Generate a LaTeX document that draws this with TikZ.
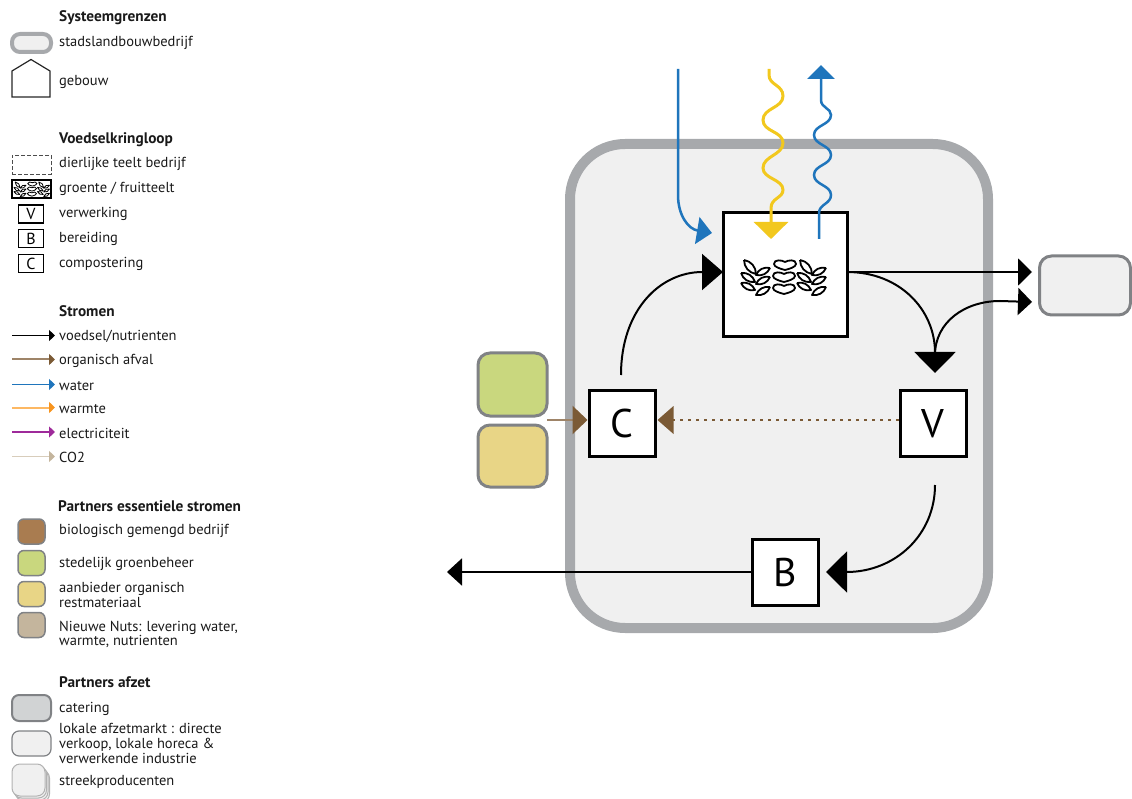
\documentclass[tikz,border=0pt]{standalone}
\usepackage{fontspec}
\setmainfont{PT Sans}
\usetikzlibrary{arrows.meta}
\definecolor{bordergray}{HTML}{A7A9AC}
\definecolor{innergray}{HTML}{F0F0F0}
\definecolor{partnerline}{HTML}{808285}
\definecolor{flowblue}{HTML}{1F75BC}
\definecolor{flowyellow}{HTML}{F2C81E}
\definecolor{wastebrown}{HTML}{7B5A35}
\definecolor{wasteline}{HTML}{9E8468}
\definecolor{swatchbrown}{HTML}{A97C50}
\definecolor{swatchgreen}{HTML}{C9D77E}
\definecolor{swatchyellow}{HTML}{E8D586}
\definecolor{swatchtan}{HTML}{C4B59D}
\definecolor{swatchgray}{HTML}{D1D3D4}
\definecolor{warmline}{HTML}{FDB863}
\definecolor{warmtip}{HTML}{F7941E}
\definecolor{purpleflow}{HTML}{9E2A9A}
\definecolor{coline}{HTML}{D8CDBB}
\tikzset{
  x=1pt, y=-1pt,
  stepnode/.style={draw=black, fill=white, line width=3pt, inner sep=0pt, minimum size=66pt, font=\fontsize{40}{40}\selectfont},
  keynode/.style={draw=black, fill=white, line width=1.2pt, inner sep=0pt, minimum width=25pt, minimum height=18pt, font=\fontsize{16}{16}\selectfont},
  partner/.style={draw=partnerline, line width=3pt, inner sep=0pt, rounded corners=12pt},
  swatch/.style={draw=partnerline, line width=1.5pt, inner sep=0pt, minimum width=27pt, minimum height=25pt, rounded corners=6pt},
  keylabel/.style={anchor=base west, inner sep=0pt, align=left, yshift=-1pt, font=\fontsize{14.5}{15}\selectfont, text=black!90},
  keyhead/.style={keylabel, font=\fontsize{15.3}{15}\selectfont\bfseries},
  flow/.style={draw=black, line width=2pt},
  bigtip/.style={-{Triangle[length=21pt, width=41pt]}},
  midtip/.style={-{Triangle[length=14pt, width=27pt]}},
}
\newcommand{\keytext}[4]{\node[keylabel] (#1) at (#2,#3) {#4};}
\newcommand{\keyhead}[4]{\node[keyhead] (#1) at (#2,#3) {#4};}
\newcommand{\keyflow}[5]{
  \coordinate (#1a) at (12,#2);
  \coordinate (#1b) at (55,#2);
  \draw[draw=#3, line width=#5, -{Triangle[length=6pt, width=11pt, color=#4]}] (#1a) -- (#1b);}
\newcommand{\leaf}[4]{\draw (#1,#2) to[bend left=40] (#3,#4) to[bend left=40] (#1,#2);}
\newcommand{\bean}[2]{\draw[shift={(#1,#2)}] (0,-3) .. controls (3,-5) and (11,-6) .. (11,-1) .. controls (11,2) and (4,4) .. (0,5) .. controls (-4,4) and (-11,2) .. (-11,-1) .. controls (-11,-6) and (-3,-5) .. (0,-3);}
\newcommand{\leaves}[4]{
  \begin{scope}[shift={(#1,#2)}, scale=#3, line width=#4, line join=round]
    \foreach \dx in {0,56} {
      \leaf{-39+\dx}{-17}{-27+\dx}{-3}
      \leaf{-13+\dx}{-9}{-27+\dx}{-2}
      \leaf{-42+\dx}{-4}{-28+\dx}{5}
      \leaf{-13+\dx}{0}{-27+\dx}{7}
      \leaf{-42+\dx}{6}{-28+\dx}{13}
      \leaf{-13+\dx}{10}{-27+\dx}{18}
    }
    \bean{2}{-12}
    \bean{1}{0}
    \bean{1}{12}
  \end{scope}}
\begin{document}
\begin{tikzpicture}
  \useasboundingbox (0,0) rectangle (1132,799);
  % system boundary
  \node[draw=bordergray, fill=innergray, line width=10pt, inner sep=0pt, minimum width=418pt, minimum height=484pt, rounded corners=55pt] (bedrijf) at (779,386) {};
  % steps
  \node[stepnode, minimum size=124pt] (teelt) at (785,274.5) {};
  \leaves{783}{277}{1}{1.8pt}
  \node[stepnode] (compost) at (622,423.5) {C};
  \node[stepnode] (verwerk) at (933,423.5) {V};
  \node[stepnode] (bereid) at (785,572) {B};
  % partners
  \node[partner, fill=swatchgreen, minimum width=69pt, minimum height=63pt] (groen) at (512.5,384.5) {};
  \node[partner, fill=swatchyellow, minimum width=69pt, minimum height=62pt] (rest) at (512.5,456) {};
  \node[partner, fill=innergray, minimum width=91pt, minimum height=59pt] (afzet) at (1085,285.5) {};
  % free ends
  \coordinate (compostup) at (621,375);
  \coordinate (teeltin) at (723,272);
  \coordinate (teeltout) at (847,272);
  \coordinate (afzetA) at (1032,272);
  \coordinate (afzetB) at (1032,302);
  \coordinate (split) at (935,355);
  \coordinate (verwerkin) at (935,373);
  \coordinate (verwerkout) at (935,485);
  \coordinate (bereidin) at (826,572);
  \coordinate (uit) at (447,572);
  \coordinate (restin) at (547,420);
  \coordinate (waterin) at (678,69);
  \coordinate (watertip) at (712,233);
  \coordinate (warmin) at (769,69);
  \coordinate (warmtip) at (771,239);
  \coordinate (waterout) at (819,239);
  \coordinate (watertop) at (821,65);
  % flows
  \draw[flow, -{Triangle[length=21pt, width=36pt]}] (compostup) .. controls (621,310) and (660,272) .. (teeltin);
  \draw[flow, midtip] (teeltout) -- (afzetA);
  \draw[flow, bigtip] (teeltout) .. controls (900,272) and (935,310) .. (verwerkin);
  \draw[flow, midtip] (split) .. controls (935,322) and (965,301) .. (1000,301) -- (afzetB);
  \draw[flow, bigtip] (verwerkout) .. controls (935,535) and (895,572) .. (bereidin);
  \draw[flow, -{Triangle[length=15pt, width=27pt]}] (bereid.west) -- (uit);
  \draw[draw=wasteline, line width=2.5pt, -{Triangle[length=15pt, width=28pt, color=wastebrown]}] (restin) -- (compost.west |- restin);
  \draw[draw=wastebrown, line width=2pt, dash pattern=on 3pt off 5pt] (verwerk.west |- restin) -- (672,420);
  \draw[draw=none, fill=wastebrown] (compost.east |- restin) ++(1,0) -- ++(16,-14) -- ++(0,28) -- cycle;
  \draw[draw=flowblue, line width=2.5pt, -{Triangle[length=15pt, width=27pt]}] (waterin) -- (678,195) .. controls (678,215) and (688,229) .. (watertip);
  \draw[draw=flowyellow, line width=3pt, -{Triangle[length=17pt, width=34pt]}] (warmin) -- (769,75) .. controls (769,85) and (783,85) .. (783,96) .. controls (783,108) and (763,108) .. (763,120) .. controls (763,132) and (783,131) .. (783,143) .. controls (783,155) and (763,156) .. (763,168) .. controls (763,179) and (783,179) .. (783,190) .. controls (783,198) and (771,198) .. (771,208) -- (warmtip);
  \draw[draw=flowblue, line width=2.5pt, -{Triangle[length=14pt, width=27pt]}] (waterout) -- (819,213) .. controls (819,204) and (831,204) .. (831,195) .. controls (831,185) and (814,185) .. (814,175) .. controls (814,165) and (831,165) .. (831,155) .. controls (831,145) and (814,145) .. (814,135) .. controls (814,125) and (831,125) .. (831,115) .. controls (831,108) and (821,108) .. (821,100) -- (watertop);
  % legend systeemgrenzen
  \keyhead{kopA}{59}{21}{Systeemgrenzen}
  \node[draw=bordergray, fill=innergray, line width=4pt, inner sep=0pt, minimum width=39pt, minimum height=18pt, rounded corners=8pt] (keybedrijf) at (31.5,43) {};
  \keytext{txtbedrijf}{59}{46}{stadslandbouwbedrijf}
  \draw[line width=1.2pt, draw=black!85] (12,97) -- (12,71) -- (31,59.5) -- (50,71) -- (50,97) -- cycle;
  \keytext{txtgebouw}{59}{85}{gebouw}
  % legend voedselkringloop
  \keyhead{kopB}{59}{143}{Voedselkringloop}
  \node[draw=black!70, dash pattern=on 4pt off 2pt, line width=0.9pt, inner sep=0pt, minimum width=39pt, minimum height=19pt] (keydier) at (31.5,165) {};
  \keytext{txtdier}{59}{167}{dierlijke teelt bedrijf}
  \node[draw=black, fill=white, line width=1.5pt, inner sep=0pt, minimum width=39pt, minimum height=18pt] (keyteelt) at (31.5,189) {};
  \leaves{31.5}{189}{0.42}{0.8pt}
  \keytext{txtteelt}{59}{192}{groente / fruitteelt}
  \node[keynode] (keyV) at (31,214) {V};
  \keytext{txtV}{59}{217}{verwerking}
  \node[keynode] (keyB) at (31,238.5) {B};
  \keytext{txtB}{59}{242}{bereiding}
  \node[keynode] (keyC) at (31,263.5) {C};
  \keytext{txtC}{59}{267}{compostering}
  % legend stromen
  \keyhead{kopC}{59}{316}{Stromen}
  \keyflow{voedsel}{335.5}{black}{black}{1pt}
  \keytext{txtvoedsel}{59}{340}{voedsel/nutrienten}
  \keyflow{afval}{359.5}{wasteline}{wastebrown}{2pt}
  \keytext{txtafval}{59}{364}{organisch afval}
  \keyflow{water}{384.5}{flowblue}{flowblue}{1.2pt}
  \keytext{txtwater}{59}{389}{water}
  \keyflow{warmte}{407.5}{warmline}{warmtip}{2pt}
  \keytext{txtwarmte}{59}{412}{warmte}
  \keyflow{elek}{432}{purpleflow}{purpleflow}{1.2pt}
  \keytext{txtelek}{59}{437}{electriciteit}
  \keyflow{co}{456.5}{coline}{swatchtan}{1.2pt}
  \keytext{txtco}{59}{461}{CO2}
  % legend partners essentiele stromen
  \keyhead{kopD}{58}{510}{Partners essentiele stromen}
  \node[swatch, fill=swatchbrown] (keybrown) at (31.5,531.5) {};
  \keytext{txtbrown}{59}{533}{biologisch gemengd bedrijf}
  \node[swatch, fill=swatchgreen] (keygreen) at (31.5,563) {};
  \keytext{txtgreen}{59}{566}{stedelijk groenbeheer}
  \node[swatch, fill=swatchyellow] (keyyellow) at (31.5,594) {};
  \keytext{txtyellow}{59}{591}{aanbieder organisch}
  \keytext{txtyellowb}{59}{606}{restmateriaal}
  \node[swatch, fill=swatchtan] (keytan) at (31.5,625) {};
  \keytext{txttan}{59}{630}{Nieuwe Nuts: levering water,}
  \keytext{txttanb}{59}{644}{warmte, nutrienten}
  % legend partners afzet
  \keyhead{kopE}{59}{686}{Partners afzet}
  \node[swatch, fill=swatchgray, line width=2pt, minimum width=39pt, minimum height=26pt, rounded corners=7pt] (keycater) at (31.5,708) {};
  \keytext{txtcater}{59}{711}{catering}
  \node[swatch, fill=innergray, line width=1.2pt, minimum width=39pt, minimum height=25pt, rounded corners=7pt] (keylokaal) at (31.5,743.5) {};
  \keytext{txtlokaal}{59}{732}{lokale afzetmarkt : directe}
  \keytext{txtlokaalb}{59}{747}{verkoop, lokale horeca \&}
  \keytext{txtlokaalc}{59}{762}{verwerkende industrie}
  \foreach \i in {3,2,1,0} {
    \node[swatch, draw=black!30, fill=innergray, line width=1pt, minimum width=33pt, minimum height=32pt, rounded corners=8pt] (keystreek\i) at (28.5+1.5*\i,780+2*\i) {};
  }
  \keytext{txtstreek}{59}{784}{streekproducenten}
\end{tikzpicture}
\end{document}
